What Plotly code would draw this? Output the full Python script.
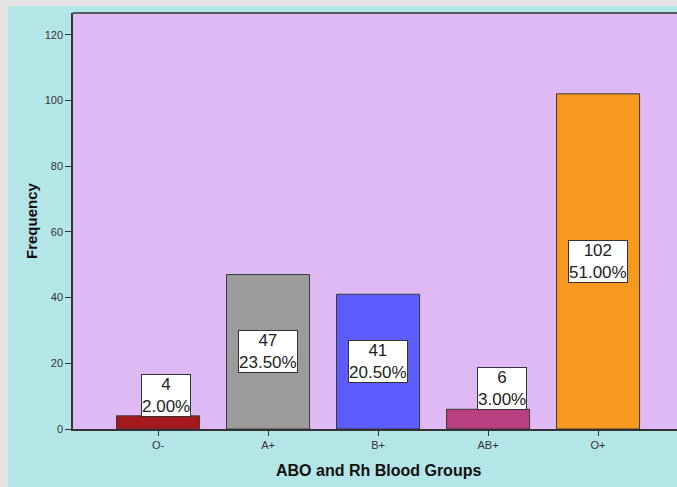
import plotly.graph_objects as go

categories = ["O-", "A+", "B+", "AB+", "O+"]
counts = [4, 47, 41, 6, 102]
percents = ["2.00%", "23.50%", "20.50%", "3.00%", "51.00%"]
bar_colors = ["#a5181b", "#9b9b9b", "#5c5cff", "#ba3f80", "#f7981f"]
label_xshift = [8, 0, 0, 14, 0]
y_ticks = [0, 20, 40, 60, 80, 100, 120]

W, H = 669, 481
ML, MR, MT, MB = 65, 0, 7, 57.5
PW = W - ML - MR
PH = H - MT - MB

def px_x(p):
    return (p - ML) / PW

def px_y(p):
    return (H - MB - p) / PH

fig = go.Figure()
fig.add_trace(go.Bar(
    x=categories, y=counts, width=0.755,
    marker=dict(color=bar_colors, line=dict(color="#3a3a3a", width=1)),
    hoverinfo="skip",
))

annotations = []
for c, v, p, dx in zip(categories, counts, percents, label_xshift):
    small = v < 10
    annotations.append(dict(
        x=c, y=v if small else v / 2, xref="x", yref="y",
        text=f"{v}<br>{p}", showarrow=False, xshift=dx,
        yshift=-1 if small else 0,
        yanchor="bottom" if small else "middle",
        font=dict(family="Liberation Sans, Arial", size=17, color="#222222"),
        bgcolor="white", bordercolor="#333333", borderwidth=1, borderpad=0,
    ))

annotations.append(dict(
    x=2, y=px_y(465), xref="x", yref="paper", text="<b>ABO and Rh Blood Groups</b>",
    showarrow=False, yanchor="middle", xanchor="center",
    font=dict(family="Liberation Sans, Arial", size=16, color="#111111"),
))
annotations.append(dict(
    x=px_x(23), y=0.5, xref="paper", yref="paper", text="<b>Frequency</b>", textangle=-90,
    showarrow=False, xanchor="center", yanchor="middle",
    font=dict(family="Liberation Sans, Arial", size=15, color="#111111"),
))

shapes = [
    dict(type="line", xref="paper", yref="paper", x0=0, x1=1.05, y0=1, y1=1,
         line=dict(color="#333333", width=1.5)),
]

fig.update_layout(
    width=W, height=H,
    margin=dict(l=ML, r=MR, t=MT, b=MB, pad=0),
    paper_bgcolor="#b4e6e8", plot_bgcolor="#dfb9f3",
    showlegend=False, bargap=0.2,
    font=dict(family="Liberation Sans, Arial", size=11, color="#333333"),
    annotations=annotations, shapes=shapes,
)
fig.update_xaxes(
    range=[-0.773, -0.773 + PW / 110.0], showgrid=False, zeroline=False,
    showline=True, linecolor="#333333", linewidth=1.5,
    ticks="outside", ticklen=5, tickcolor="#333333",
    tickfont=dict(size=11, color="#333333"),
)
fig.update_yaxes(
    range=[0, 126.6], tickvals=y_ticks, showgrid=False, zeroline=False,
    showline=True, linecolor="#333333", linewidth=1.5,
    ticks="outside", ticklen=6, tickcolor="#333333",
    tickfont=dict(size=11, color="#333333"),
)

fig.write_html(
    "out.html",
    post_script="document.body.style.margin='6px 0 0 8px';document.body.style.background='#e4e4e4';document.body.style.overflow='hidden';",
)
